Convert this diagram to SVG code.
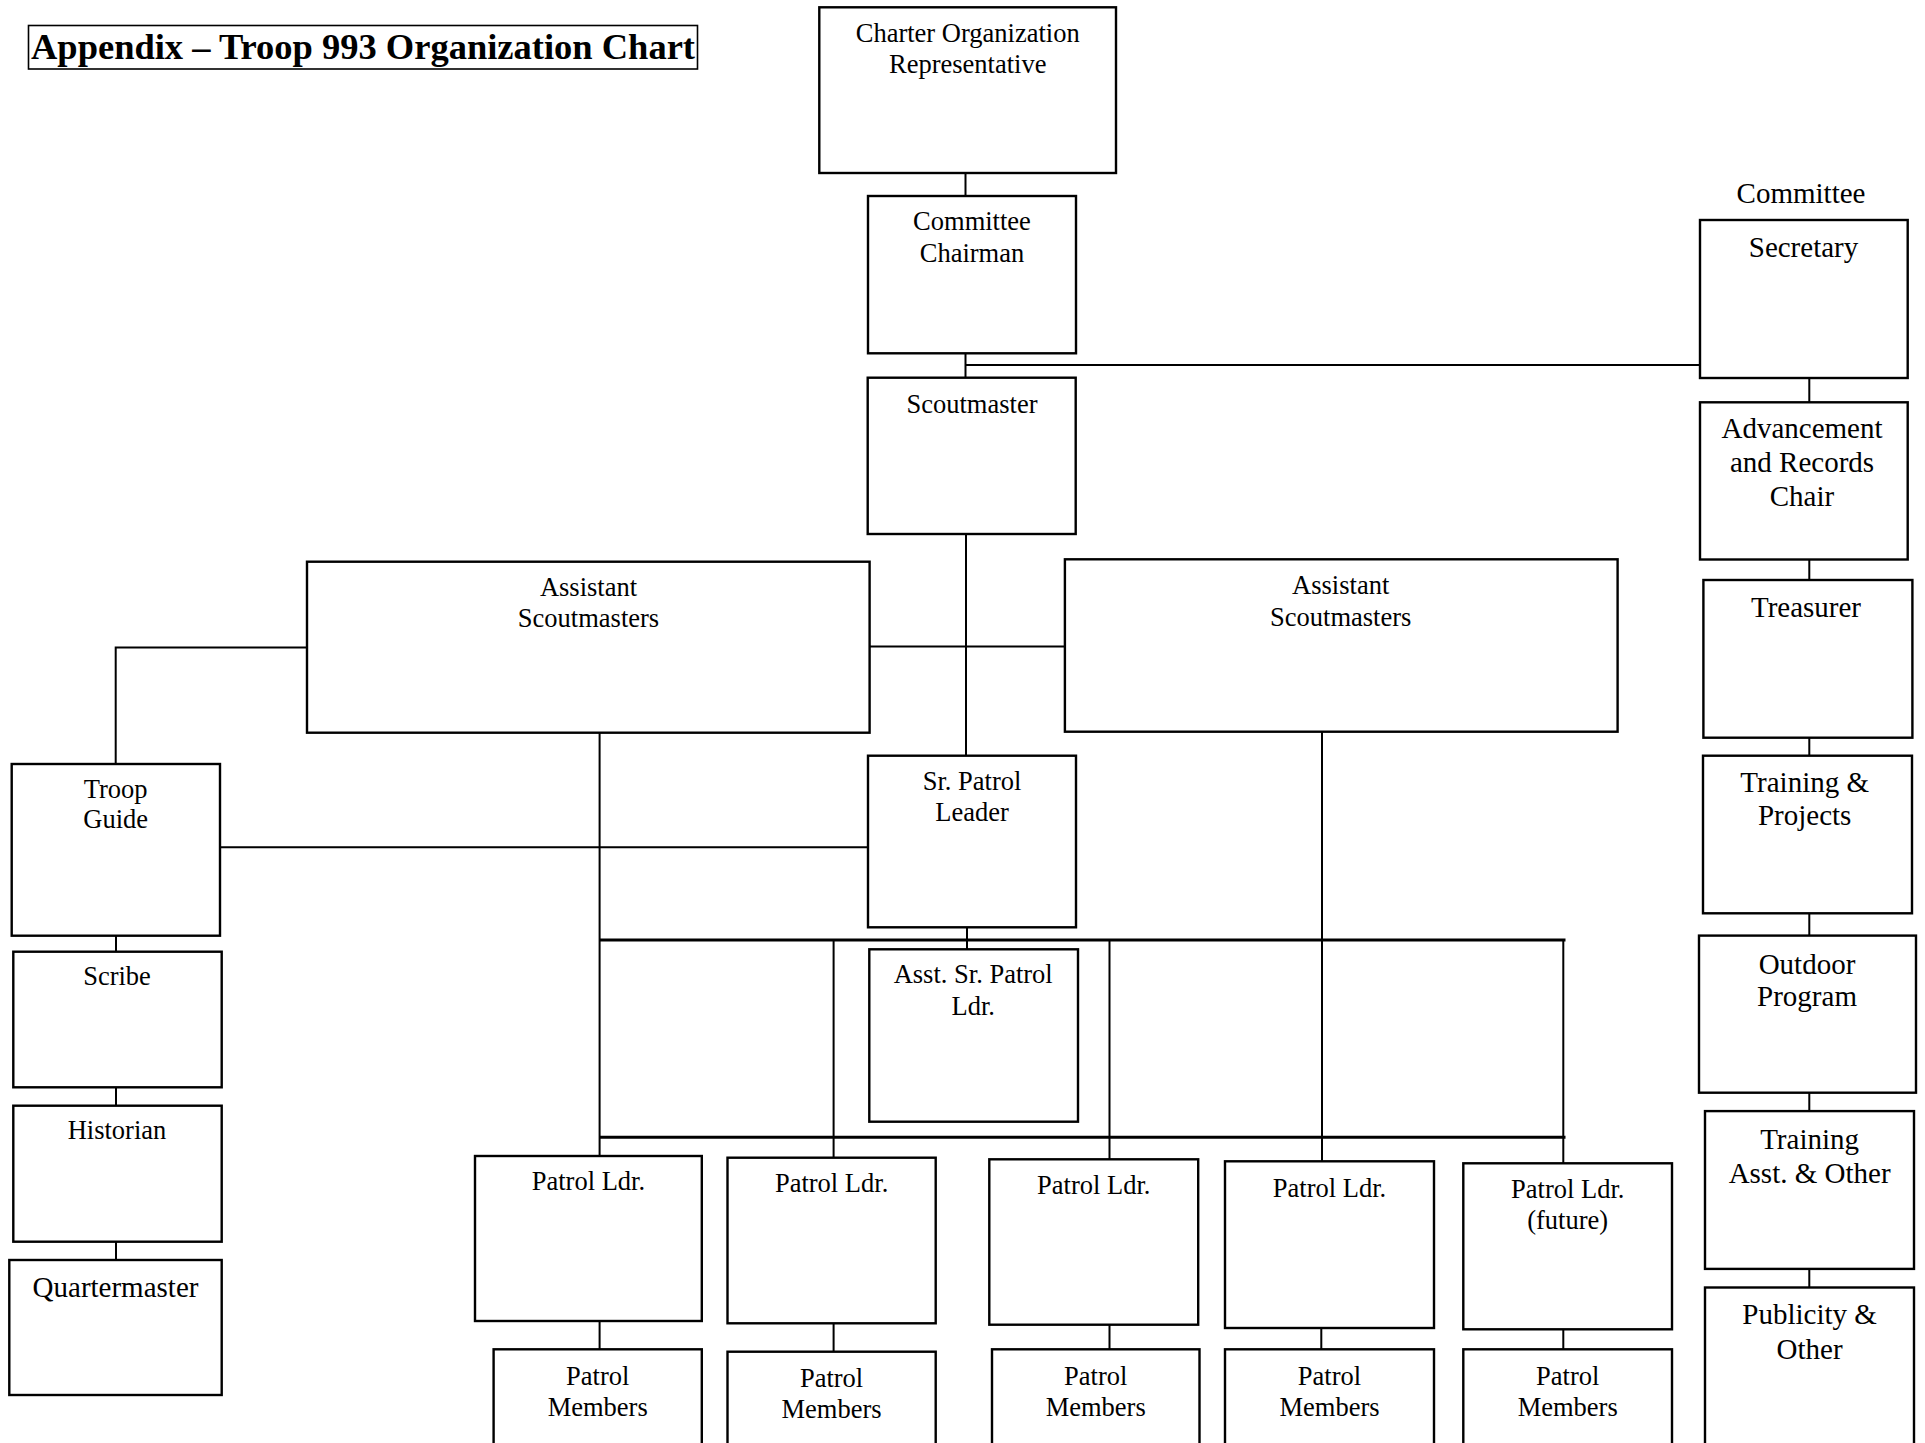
<svg xmlns="http://www.w3.org/2000/svg" width="1925" height="1443" viewBox="0 0 1925 1443">
<style>
.box{fill:#fff;stroke:#000;stroke-width:2.4}
.t{font-family:"Liberation Serif","Times New Roman",serif;font-size:26.5px;fill:#000;text-anchor:middle}
.tl{font-family:"Liberation Serif","Times New Roman",serif;font-size:29px;fill:#000;text-anchor:middle}
.c{stroke:#000;stroke-width:2;fill:none}
.bus{stroke:#000;stroke-width:3;fill:none}
</style>
<rect width="1925" height="1443" fill="#fff"/>
<g id="title">
<rect x="28.5" y="25.5" width="669" height="43.5" fill="none" stroke="#000" stroke-width="1.6"/>
<text x="31" y="59" font-family="'Liberation Serif','Times New Roman',serif" font-weight="bold" font-size="36" textLength="664" lengthAdjust="spacingAndGlyphs">Appendix – Troop 993 Organization Chart</text>
</g>
<g id="connectors">
<path class="c" d="M965.5 173V196M965.5 353V377.7M965.5 365H1700M966 534V755.7M869 646.5H1065M307 647.5H115.7V764M220 847.3H868M599.6 733V1156M1322 731.7V1161.3M967 927.3V949.3M833.6 940V1157.7M1109.5 940V1159.3M1563.3 940V1163.3"/>
<path class="bus" d="M599.6 940H1565.5M599.6 1137.3H1565.5"/>
<path class="c" d="M599.6 1321V1349.3M833.6 1323.3V1351.7M1109.5 1324.7V1349.3M1321.3 1328V1349.3M1563.3 1329.3V1349.3"/>
<path class="c" d="M116 935.7V951.7M116 1087.3V1105.7M116 1241.7V1260"/>
<path class="c" d="M1809.3 378V402.3M1809.3 559.5V580M1809.3 737.7V755.7M1809.3 913.3V935.6M1809.3 1092.7V1111.1M1809.3 1268.9V1287.5"/>
</g>
<g id="charter"><rect class="box" x="819.3" y="7.3" width="296.7" height="165.7"/><text class="t" x="967.7" y="42">Charter Organization</text><text class="t" x="967.7" y="73">Representative</text></g>
<g id="chairman"><rect class="box" x="868" y="196" width="208" height="157.3"/><text class="t" x="972" y="230">Committee</text><text class="t" x="972" y="261.7">Chairman</text></g>
<g id="scoutmaster"><rect class="box" x="867.7" y="377.7" width="208" height="156.3"/><text class="t" x="972" y="412.7">Scoutmaster</text></g>
<g id="asm-left"><rect class="box" x="307" y="561.7" width="562.6" height="171"/><text class="t" x="588.5" y="595.5">Assistant</text><text class="t" x="588.5" y="627">Scoutmasters</text></g>
<g id="asm-right"><rect class="box" x="1064.9" y="559.3" width="552.7" height="172.4"/><text class="t" x="1340.7" y="594">Assistant</text><text class="t" x="1340.7" y="625.7">Scoutmasters</text></g>
<g id="spl"><rect class="box" x="868" y="755.7" width="208" height="171.6"/><text class="t" x="972" y="790">Sr. Patrol</text><text class="t" x="972" y="820.7">Leader</text></g>
<g id="aspl"><rect class="box" x="869.3" y="949.3" width="208.7" height="172.4"/><text class="t" x="973.2" y="983.3">Asst. Sr. Patrol</text><text class="t" x="973.2" y="1015">Ldr.</text></g>
<g id="troop-guide"><rect class="box" x="11.7" y="764" width="208.3" height="171.7"/><text class="t" x="115.7" y="798.3">Troop</text><text class="t" x="115.7" y="828.3">Guide</text></g>
<g id="scribe"><rect class="box" x="13.3" y="951.7" width="208.4" height="135.6"/><text class="t" x="117" y="985">Scribe</text></g>
<g id="historian"><rect class="box" x="13.3" y="1105.7" width="208.4" height="136"/><text class="t" x="117" y="1139.3">Historian</text></g>
<g id="quartermaster"><rect class="box" x="9.3" y="1260" width="212.4" height="135"/><text class="tl" x="115.5" y="1296.7">Quartermaster</text></g>
<g id="pl1"><rect class="box" x="475" y="1156" width="226.8" height="165"/><text class="t" x="588.4" y="1190">Patrol Ldr.</text></g>
<g id="pl2"><rect class="box" x="727.5" y="1157.7" width="208.2" height="165.6"/><text class="t" x="831.6" y="1192">Patrol Ldr.</text></g>
<g id="pl3"><rect class="box" x="989.3" y="1159.3" width="208.9" height="165.4"/><text class="t" x="1093.7" y="1194">Patrol Ldr.</text></g>
<g id="pl4"><rect class="box" x="1225" y="1161.3" width="209" height="166.7"/><text class="t" x="1329.5" y="1196.7">Patrol Ldr.</text></g>
<g id="pl5"><rect class="box" x="1463.3" y="1163.3" width="208.7" height="166"/><text class="t" x="1567.7" y="1198.3">Patrol Ldr.</text><text class="t" x="1567.7" y="1229.3">(future)</text></g>
<g id="pm1"><rect class="box" x="493.6" y="1349.3" width="208.2" height="110"/><text class="t" x="597.7" y="1385">Patrol</text><text class="t" x="597.7" y="1415.7">Members</text></g>
<g id="pm2"><rect class="box" x="727.5" y="1351.7" width="208.2" height="110"/><text class="t" x="831.6" y="1387">Patrol</text><text class="t" x="831.6" y="1418">Members</text></g>
<g id="pm3"><rect class="box" x="992" y="1349.3" width="207.5" height="110"/><text class="t" x="1095.7" y="1385">Patrol</text><text class="t" x="1095.7" y="1415.7">Members</text></g>
<g id="pm4"><rect class="box" x="1225" y="1349.3" width="209" height="110"/><text class="t" x="1329.5" y="1385">Patrol</text><text class="t" x="1329.5" y="1415.7">Members</text></g>
<g id="pm5"><rect class="box" x="1463.3" y="1349.3" width="208.7" height="110"/><text class="t" x="1567.7" y="1385">Patrol</text><text class="t" x="1567.7" y="1415.7">Members</text></g>
<g id="committee-label"><text class="tl" x="1801" y="202.7">Committee</text></g>
<g id="secretary"><rect class="box" x="1700" y="220" width="207.7" height="158"/><text class="tl" x="1803.5" y="256.7">Secretary</text></g>
<g id="advancement"><rect class="box" x="1700" y="402.3" width="207.7" height="157.2"/><text class="tl" x="1802" y="438.3">Advancement</text><text class="tl" x="1802" y="471.7">and Records</text><text class="tl" x="1802" y="506">Chair</text></g>
<g id="treasurer"><rect class="box" x="1703.4" y="580" width="209" height="157.7"/><text class="tl" x="1806" y="617.3">Treasurer</text></g>
<g id="training-projects"><rect class="box" x="1703" y="755.7" width="209" height="157.6"/><text class="tl" x="1804.7" y="792.3">Training &amp;</text><text class="tl" x="1804.7" y="825">Projects</text></g>
<g id="outdoor"><rect class="box" x="1699" y="935.6" width="217" height="157.1"/><text class="tl" x="1807" y="973.7">Outdoor</text><text class="tl" x="1807" y="1006">Program</text></g>
<g id="training-asst"><rect class="box" x="1705" y="1111.1" width="209" height="157.8"/><text class="tl" x="1809.6" y="1149">Training</text><text class="tl" x="1809.6" y="1183">Asst. &amp; Other</text></g>
<g id="publicity"><rect class="box" x="1705" y="1287.5" width="209" height="180"/><text class="tl" x="1809.6" y="1324">Publicity &amp;</text><text class="tl" x="1809.6" y="1358.5">Other</text></g>
</svg>
